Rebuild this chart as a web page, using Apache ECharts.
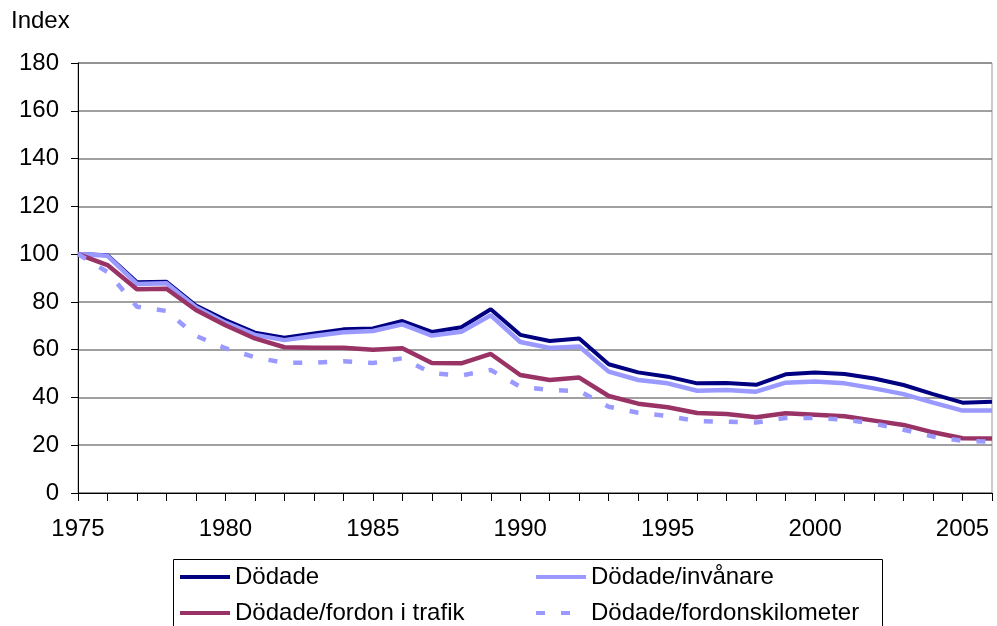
<!DOCTYPE html>
<html>
<head>
<meta charset="utf-8">
<script src="https://cdn.jsdelivr.net/npm/echarts@6/dist/echarts.min.js"></script>
<style>
html,body{margin:0;padding:0;background:#fff;}
#chart{width:997px;height:626px;}
</style>
</head>
<body>
<div id="chart"></div>
<script>
var years = [];
for (var y = 1975; y <= 2006; y++) years.push(String(y));

var dodade = [100, 99.5, 88.2, 88.4, 78.5, 72.4, 67.1, 65.0, 66.8, 68.5, 68.9, 72.0, 67.4, 69.4, 76.9, 66.2, 63.6, 64.7, 53.9, 50.5, 48.7, 45.9, 46.0, 45.3, 49.7, 50.4, 49.8, 47.9, 45.2, 41.4, 37.8, 38.2];
var invanare = [100, 99.3, 87.5, 87.8, 77.8, 71.3, 66.2, 64.0, 65.7, 67.3, 67.8, 70.6, 65.9, 67.5, 74.4, 63.2, 60.7, 61.3, 50.8, 47.3, 45.9, 42.8, 43.1, 42.4, 46.2, 46.7, 45.9, 43.8, 41.4, 37.8, 34.5, 34.5];
var fordon = [100, 95.4, 85.3, 85.5, 76.6, 70.2, 64.7, 61.0, 60.8, 60.8, 60.0, 60.6, 54.4, 54.3, 58.2, 49.4, 47.3, 48.3, 40.6, 37.4, 35.9, 33.5, 33.1, 31.7, 33.4, 32.8, 32.1, 30.3, 28.5, 25.4, 22.9, 22.8];
var fordonskm = [100, 92.5, 78.0, 76.2, 65.8, 60.6, 56.8, 54.5, 54.5, 55.2, 54.4, 56.4, 50.2, 49.2, 51.5, 44.5, 43.1, 42.7, 36.1, 33.6, 32.2, 30.1, 29.8, 29.5, 31.4, 31.4, 30.7, 29.0, 26.5, 23.6, 21.9, 21.5];

var names = ['Dödade', 'Dödade/invånare', 'Dödade/fordon i trafik', 'Dödade/fordonskilometer'];

var FONT = "'Liberation Sans', Arial, sans-serif";
var FS = 24;
var chart = echarts.init(document.getElementById('chart'), null, {renderer: 'canvas'});

function legendAt(name, left, top) {
  return {
    data: [name], left: left, top: top, orient: 'horizontal',
    itemWidth: 50, itemHeight: 14, itemGap: 0, padding: 0,
    selectedMode: false,
    itemStyle: {opacity: 0},
    lineStyle: {width: 4},
    textStyle: {fontFamily: FONT, fontSize: FS, color: '#000', lineHeight: FS}
  };
}

chart.setOption({
  animation: false,
  backgroundColor: '#fff',
  grid: {left: 78, right: 5, top: 63, bottom: 133, show: true, borderColor: '#999', borderWidth: 1, backgroundColor: 'transparent'},
  graphic: [
    {type: 'text', left: 11, top: 9, style: {text: 'Index', font: FS + 'px ' + FONT, fill: '#000'}},
    {type: 'rect', shape: {x: 173.5, y: 559.5, width: 709, height: 90}, style: {fill: 'none', stroke: '#000', lineWidth: 1}, z: 100}
  ],
  legend: [
    legendAt(names[0], 178, 565),
    legendAt(names[1], 534, 565),
    legendAt(names[2], 178, 601),
    legendAt(names[3], 534, 601)
  ],
  xAxis: {
    type: 'category', data: years, boundaryGap: false,
    axisLine: {lineStyle: {color: '#000', width: 1}},
    axisTick: {show: true, interval: 0, length: 8, lineStyle: {color: '#000'}},
    axisLabel: {interval: 4, margin: 24, fontFamily: FONT, fontSize: FS, color: '#000', lineHeight: FS},
    splitLine: {show: false}
  },
  yAxis: {
    type: 'value', min: 0, max: 180, interval: 20,
    axisLine: {show: true, lineStyle: {color: '#000', width: 1}},
    axisTick: {show: true, length: 7, lineStyle: {color: '#000'}},
    axisLabel: {margin: 19, fontFamily: FONT, fontSize: FS, color: '#000'},
    splitLine: {show: true, lineStyle: {color: '#808080', width: 1.5}}
  },
  series: [
    {name: names[0], type: 'line', data: dodade, symbol: 'none', color: '#000080', lineStyle: {color: '#000080', width: 4}},
    {name: names[1], type: 'line', data: invanare, symbol: 'none', color: '#9999FF', lineStyle: {color: '#9999FF', width: 4.5}},
    {name: names[2], type: 'line', data: fordon, symbol: 'none', color: '#993366', lineStyle: {color: '#993366', width: 4.5}},
    {name: names[3], type: 'line', data: fordonskm, symbol: 'none', color: '#9999FF', lineStyle: {color: '#9999FF', width: 4.5, type: [9, 16]}}
  ]
});
</script>
</body>
</html>
